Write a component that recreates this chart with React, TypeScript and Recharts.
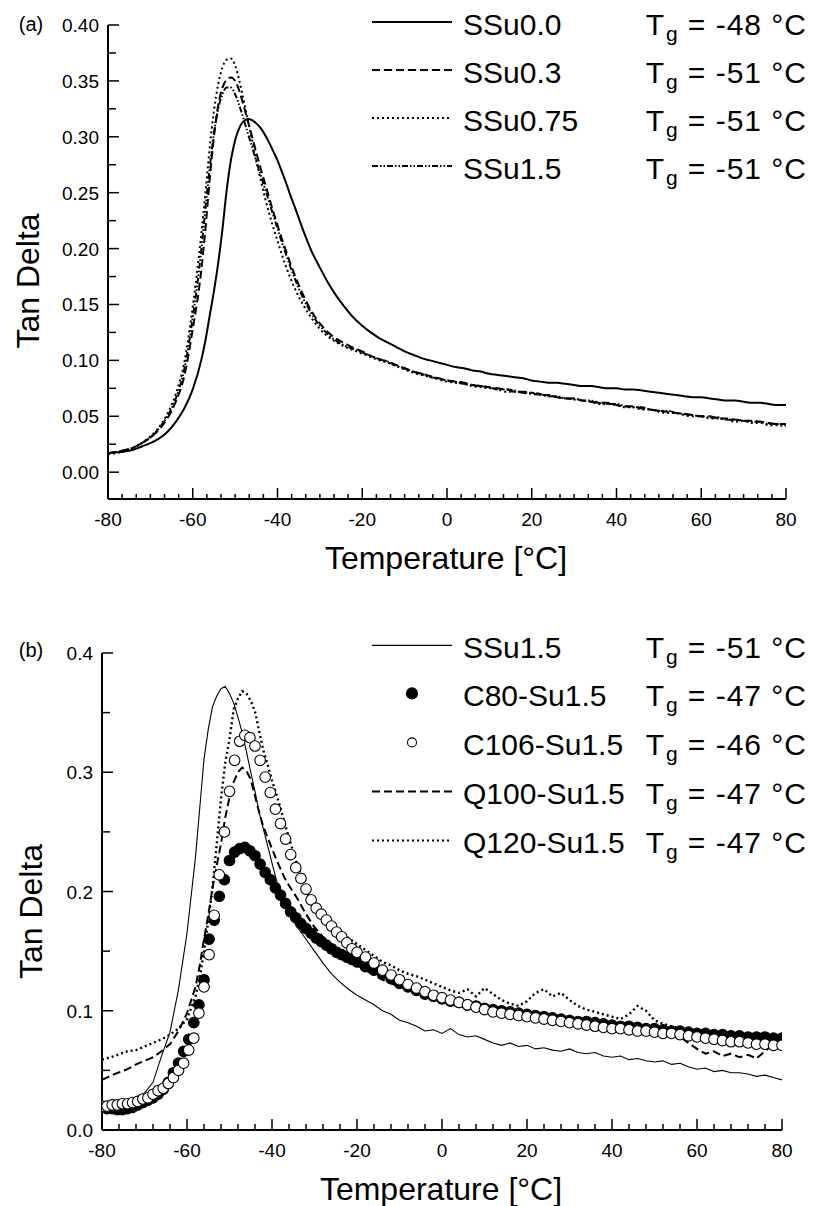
import React from "react";
import { ComposedChart, Line, Scatter, XAxis, YAxis, Legend } from "recharts";

const FONT = '"Liberation Sans", Arial, Helvetica, sans-serif';

// temperature grid (°C) used by the line series of both panels
const temps = [
  -80, -77, -74, -72, -70, -68, -66, -64, -62, -60,
  -58, -57, -56, -55, -54, -53, -52, -51, -50, -49, -48, -47, -46, -45, -44, -43, -42, -41, -40, -39, -38, -37, -36,
  -34, -32, -30, -28, -26, -24, -22, -20, -18, -16, -14, -12, -10, -8, -6, -4, -2, 0,
  2, 4, 6, 8, 10, 12, 14, 16, 18, 20, 22, 24, 26, 28, 30, 32, 34, 36, 38, 40,
  42, 44, 46, 48, 50, 52, 54, 56, 58, 60, 62, 64, 66, 68, 70, 72, 74, 76, 78, 80,
];

// ---- panel (a) ----
const ssu00 = [
  0.017, 0.018, 0.02, 0.023, 0.026, 0.03, 0.036, 0.045, 0.057, 0.074,
  0.1, 0.118, 0.14, 0.162, 0.187, 0.217, 0.252, 0.279, 0.297, 0.308, 0.314, 0.316, 0.315, 0.312, 0.308, 0.302, 0.295, 0.287, 0.279, 0.269, 0.259, 0.248, 0.238,
  0.217, 0.198, 0.183, 0.169, 0.157, 0.147, 0.138, 0.131, 0.125, 0.12, 0.116, 0.112, 0.108, 0.105, 0.102, 0.1, 0.098, 0.096,
  0.094, 0.093, 0.091, 0.09, 0.088, 0.087, 0.086, 0.085, 0.084, 0.082, 0.081, 0.08, 0.08, 0.079, 0.078, 0.077, 0.077, 0.076, 0.075, 0.075,
  0.074, 0.074, 0.073, 0.072, 0.071, 0.07, 0.069, 0.068, 0.067, 0.067, 0.066, 0.065, 0.064, 0.064, 0.063, 0.062, 0.062, 0.061, 0.06, 0.06,
];
const ssu03 = [
  0.017, 0.019, 0.022, 0.026, 0.031, 0.038, 0.048, 0.063, 0.086, 0.128,
  0.18, 0.218, 0.262, 0.3, 0.328, 0.344, 0.351, 0.353, 0.35, 0.341, 0.328, 0.314, 0.3, 0.286, 0.272, 0.259, 0.246, 0.233, 0.221, 0.209, 0.198, 0.187, 0.177,
  0.159, 0.144, 0.133, 0.125, 0.119, 0.115, 0.111, 0.108, 0.104, 0.101, 0.099, 0.096, 0.093, 0.09, 0.088, 0.086, 0.084, 0.082,
  0.081, 0.08, 0.078, 0.077, 0.076, 0.075, 0.074, 0.072, 0.072, 0.071, 0.069, 0.069, 0.067, 0.066, 0.066, 0.064, 0.063, 0.062, 0.062, 0.06,
  0.059, 0.059, 0.057, 0.056, 0.055, 0.054, 0.053, 0.052, 0.051, 0.05, 0.05, 0.048, 0.048, 0.047, 0.046, 0.046, 0.045, 0.044, 0.043, 0.043,
];
const ssu075 = [
  0.016, 0.018, 0.022, 0.026, 0.032, 0.04, 0.052, 0.07, 0.098, 0.148,
  0.212, 0.25, 0.29, 0.323, 0.347, 0.362, 0.369, 0.37, 0.364, 0.35, 0.333, 0.315, 0.297, 0.279, 0.262, 0.246, 0.232, 0.219, 0.207, 0.195, 0.184, 0.174, 0.165,
  0.15, 0.138, 0.128, 0.121, 0.116, 0.112, 0.109, 0.106, 0.103, 0.1, 0.098, 0.095, 0.092, 0.089, 0.087, 0.085, 0.083, 0.081,
  0.08, 0.079, 0.077, 0.076, 0.075, 0.074, 0.072, 0.072, 0.071, 0.07, 0.069, 0.068, 0.067, 0.066, 0.065, 0.064, 0.063, 0.061, 0.061, 0.06,
  0.058, 0.058, 0.056, 0.056, 0.054, 0.053, 0.053, 0.051, 0.05, 0.05, 0.048, 0.048, 0.047, 0.045, 0.046, 0.044, 0.044, 0.042, 0.042, 0.041,
];
const ssu15a = [
  0.017, 0.019, 0.022, 0.026, 0.031, 0.039, 0.05, 0.066, 0.092, 0.138,
  0.198, 0.236, 0.272, 0.303, 0.325, 0.338, 0.344, 0.344, 0.338, 0.328, 0.316, 0.303, 0.291, 0.278, 0.266, 0.254, 0.242, 0.23, 0.218, 0.206, 0.195, 0.184, 0.174,
  0.156, 0.142, 0.131, 0.123, 0.117, 0.113, 0.11, 0.107, 0.104, 0.101, 0.099, 0.095, 0.093, 0.09, 0.088, 0.085, 0.084, 0.082,
  0.081, 0.079, 0.078, 0.077, 0.076, 0.074, 0.074, 0.073, 0.071, 0.071, 0.07, 0.068, 0.068, 0.066, 0.066, 0.064, 0.064, 0.062, 0.061, 0.061,
  0.059, 0.058, 0.058, 0.056, 0.055, 0.055, 0.053, 0.052, 0.051, 0.05, 0.049, 0.049, 0.047, 0.047, 0.046, 0.045, 0.045, 0.043, 0.043, 0.042,
];
const namesA = ["SSu0.0", "SSu0.3", "SSu0.75", "SSu1.5"];
const tgA = [-48, -51, -51, -51];

// ---- panel (b) ----
const ssu15b = [
  0.018, 0.02, 0.023, 0.027, 0.031, 0.04, 0.062, 0.082, 0.118, 0.165,
  0.229, 0.27, 0.311, 0.336, 0.355, 0.364, 0.37, 0.372, 0.366, 0.358, 0.346, 0.333, 0.317, 0.3, 0.284, 0.266, 0.252, 0.238, 0.224, 0.21, 0.197, 0.188, 0.181,
  0.17, 0.16, 0.15, 0.14, 0.131, 0.124, 0.118, 0.113, 0.109, 0.105, 0.1, 0.097, 0.092, 0.09, 0.087, 0.083, 0.084, 0.081,
  0.085, 0.08, 0.078, 0.079, 0.076, 0.073, 0.071, 0.073, 0.07, 0.071, 0.068, 0.069, 0.067, 0.066, 0.068, 0.065, 0.064, 0.065, 0.062, 0.061,
  0.062, 0.059, 0.06, 0.058, 0.057, 0.058, 0.055, 0.056, 0.053, 0.051, 0.052, 0.049, 0.05, 0.048, 0.048, 0.047, 0.045, 0.046, 0.044, 0.042,
];
const q100 = [
  0.042, 0.047, 0.051, 0.055, 0.058, 0.061, 0.066, 0.072, 0.083, 0.098,
  0.12, 0.138, 0.16, 0.18, 0.203, 0.222, 0.24, 0.262, 0.279, 0.292, 0.3, 0.304, 0.301, 0.294, 0.28, 0.266, 0.254, 0.245, 0.236, 0.227, 0.219, 0.211, 0.205,
  0.194, 0.181, 0.17, 0.162, 0.155, 0.149, 0.143, 0.138, 0.134, 0.13, 0.126, 0.123, 0.12, 0.118, 0.116, 0.114, 0.112, 0.11,
  0.109, 0.107, 0.105, 0.104, 0.103, 0.101, 0.1, 0.099, 0.098, 0.097, 0.096, 0.095, 0.094, 0.093, 0.092, 0.091, 0.09, 0.089, 0.088, 0.087,
  0.087, 0.086, 0.085, 0.084, 0.083, 0.082, 0.081, 0.078, 0.073, 0.068, 0.064, 0.066, 0.062, 0.064, 0.061, 0.063, 0.06, 0.066, 0.072, 0.074,
];
const q120 = [
  0.059, 0.062, 0.066, 0.067, 0.07, 0.073, 0.076, 0.08, 0.085, 0.093,
  0.112, 0.128, 0.15, 0.175, 0.203, 0.24, 0.278, 0.308, 0.328, 0.353, 0.362, 0.368, 0.366, 0.36, 0.351, 0.334, 0.318, 0.306, 0.293, 0.282, 0.27, 0.257, 0.245,
  0.222, 0.201, 0.186, 0.176, 0.17, 0.165, 0.161, 0.156, 0.151, 0.146, 0.141, 0.138, 0.134, 0.131, 0.129, 0.126, 0.123, 0.12,
  0.117, 0.115, 0.118, 0.112, 0.119, 0.114, 0.109, 0.106, 0.104, 0.108, 0.115, 0.118, 0.112, 0.115, 0.109, 0.104, 0.101, 0.099, 0.097, 0.095,
  0.093, 0.097, 0.104, 0.1, 0.092, 0.089, 0.087, 0.085, 0.083, 0.081, 0.08, 0.079, 0.078, 0.077, 0.075, 0.075, 0.073, 0.072, 0.072, 0.071,
];

// temperature grid of the circle series
const circleTemps = [
  -80, -78.8, -77.6, -76.4, -75.2, -74, -72.8, -71.6, -70.4, -69.2,
  -68, -66.8, -65.6, -64.4, -63.2, -62, -60.8, -59.6, -58.4, -57.2,
  -56, -54.8, -53.6, -52.4, -51.2, -50, -48.8, -47.6, -46.4, -45.2,
  -44, -42.8, -41.6, -40.4, -39.2, -38, -36.8, -35.6, -34.4, -33.2,
  -32, -30.8, -29.6, -28.4, -27.2, -26, -24.8, -23.6, -22.4, -21.2, -20,
  -18, -16, -14, -12, -10, -8, -6, -4, -2, 0,
  2, 4, 6, 8, 10, 12, 14, 16, 18, 20,
  22, 24, 26, 28, 30, 32, 34, 36, 38, 40,
  42, 44, 46, 48, 50, 52, 54, 56, 58, 60,
  62, 64, 66, 68, 70, 72, 74, 76, 78, 80,
];
const c80 = [
  0.019, 0.018, 0.018, 0.017, 0.017, 0.018, 0.019, 0.021, 0.023, 0.025,
  0.027, 0.03, 0.034, 0.04, 0.048, 0.056, 0.066, 0.076, 0.09, 0.105,
  0.126, 0.16, 0.176, 0.196, 0.21, 0.226, 0.233, 0.236, 0.237, 0.234,
  0.23, 0.223, 0.216, 0.21, 0.203, 0.197, 0.19, 0.183, 0.178, 0.173,
  0.169, 0.165, 0.161, 0.158, 0.155, 0.152, 0.149, 0.147, 0.145, 0.143, 0.141,
  0.137, 0.134, 0.131, 0.127, 0.123, 0.12, 0.117, 0.114, 0.112, 0.11,
  0.108, 0.107, 0.105, 0.104, 0.102, 0.101, 0.1, 0.099, 0.098, 0.097,
  0.096, 0.095, 0.094, 0.093, 0.092, 0.091, 0.091, 0.09, 0.089, 0.088,
  0.087, 0.087, 0.086, 0.085, 0.085, 0.084, 0.083, 0.083, 0.082, 0.081,
  0.081, 0.08, 0.08, 0.079, 0.079, 0.078, 0.078, 0.078, 0.077, 0.077,
];
const c106 = [
  0.02, 0.02, 0.021, 0.021, 0.022, 0.022, 0.023, 0.024, 0.026, 0.027,
  0.03, 0.033, 0.035, 0.039, 0.044, 0.05, 0.056, 0.067, 0.077, 0.098,
  0.12, 0.147, 0.18, 0.214, 0.25, 0.284, 0.31, 0.326, 0.331, 0.329,
  0.322, 0.31, 0.296, 0.283, 0.269, 0.257, 0.244, 0.231, 0.22, 0.211,
  0.202, 0.193, 0.186, 0.181, 0.176, 0.171, 0.166, 0.162, 0.157, 0.152, 0.149,
  0.145, 0.14, 0.134, 0.13, 0.126, 0.122, 0.119, 0.116, 0.113, 0.111,
  0.109, 0.107, 0.105, 0.103, 0.101, 0.099, 0.098, 0.097, 0.096, 0.095,
  0.094, 0.093, 0.092, 0.091, 0.09, 0.089, 0.088, 0.087, 0.086, 0.085,
  0.085, 0.084, 0.083, 0.083, 0.082, 0.081, 0.081, 0.08, 0.079, 0.078,
  0.077, 0.076, 0.075, 0.074, 0.074, 0.073, 0.072, 0.072, 0.071, 0.071,
];
const namesB = ["SSu1.5", "C80-Su1.5", "C106-Su1.5", "Q100-Su1.5", "Q120-Su1.5"];
const tgB = [-51, -47, -46, -47, -47];

// axis ticks
const xMajor = [-80, -60, -40, -20, 0, 20, 40, 60, 80];
const yMajorA = [0, 0.05, 0.1, 0.15, 0.2, 0.25, 0.3, 0.35, 0.4];
const yMajorB = [0, 0.1, 0.2, 0.3, 0.4];

function subdivide(major: number[], parts: number) {
  const out: number[] = [];
  for (let i = 0; i < major.length - 1; i++) {
    for (let k = 0; k < parts; k++) out.push(major[i] + ((major[i + 1] - major[i]) * k) / parts);
  }
  out.push(major[major.length - 1]);
  return out;
}

const toPoints = (t: number[], v: number[]) => t.map((x, i) => ({ t: x, v: v[i] }));
const isMajor = (list: number[], v: number) => list.some((m) => Math.abs(m - v) < 1e-6);

function xTick(major: number[], minorLen: number) {
  return (p: any) => {
    const v = p.payload.value;
    const big = isMajor(major, v);
    return (
      <g>
        <line x1={p.x} x2={p.x} y1={p.y} y2={p.y - (big ? 11 : minorLen)} stroke="#000" strokeWidth={1.5} />
        {big && (
          <text x={p.x} y={p.y + 27} textAnchor="middle" fontSize={19} fontFamily={FONT} fill="#000">
            {v}
          </text>
        )}
      </g>
    );
  };
}

function yTick(major: number[], digits: number) {
  return (p: any) => {
    const v = p.payload.value;
    const big = isMajor(major, v);
    return (
      <g>
        <line x1={p.x} x2={p.x + (big ? 11 : 8)} y1={p.y} y2={p.y} stroke="#000" strokeWidth={1.5} />
        {big && (
          <text x={p.x - 9} y={p.y + 7} textAnchor="end" fontSize={19} fontFamily={FONT} fill="#000">
            {v.toFixed(digits)}
          </text>
        )}
      </g>
    );
  };
}

const xTitle = (p: any) => {
  const vb = p.viewBox || { x: 0, y: 0, width: 0 };
  return (
    <text x={vb.x + vb.width / 2 - 1} y={vb.y + 70} textAnchor="middle" fontSize={32} fontFamily={FONT} fill="#000">
      Temperature [°C]
    </text>
  );
};

function yTitle(dx: number, dy: number, tag: string, tagDx: number, tagDy: number) {
  return (p: any) => {
    const vb = p.viewBox || { x: 0, y: 0, height: 0 };
    const cx = vb.x + dx;
    const cy = vb.y + vb.height / 2 + dy;
    return (
      <g>
        <text x={cx} y={cy} transform={`rotate(-90 ${cx} ${cy})`} textAnchor="middle" fontSize={32} fontFamily={FONT} fill="#000">
          Tan Delta
        </text>
        <text x={vb.x + tagDx} y={vb.y + tagDy} textAnchor="middle" fontSize={20} fontFamily={FONT} fill="#000">
          {tag}
        </text>
      </g>
    );
  };
}

type Sample = { dash?: string; width?: number; dot?: "filled" | "open" };

function LegendBlock({ names, tgs, samples, rowH }: { names: string[]; tgs: number[]; samples: Sample[]; rowH: number }) {
  const text: React.CSSProperties = {
    position: "absolute",
    top: 3,
    fontSize: 30,
    lineHeight: `${rowH}px`,
    whiteSpace: "nowrap",
    fontFamily: FONT,
    color: "#000",
  };
  return (
    <div>
      {names.map((name, i) => {
        const s = samples[i];
        return (
          <div key={name} style={{ position: "relative", height: rowH }}>
            <svg width={84} height={rowH} style={{ position: "absolute", left: 12, top: 0 }}>
              {s.dot ? (
                <circle
                  cx={40}
                  cy={rowH / 2}
                  r={s.dot === "filled" ? 5.5 : 4.5}
                  fill={s.dot === "filled" ? "#000" : "#fff"}
                  stroke="#000"
                  strokeWidth={1.1}
                />
              ) : (
                <line x1={0} x2={80} y1={rowH / 2} y2={rowH / 2} stroke="#000" strokeWidth={s.width} strokeDasharray={s.dash} />
              )}
            </svg>
            <span style={{ ...text, left: 103 }}>{name}</span>
            <span style={{ ...text, right: 9, letterSpacing: 1 }}>
              T<span style={{ fontSize: 21, position: "relative", top: 6, marginLeft: 1, marginRight: 9 }}>g</span>= {tgs[i]} °C
            </span>
          </div>
        );
      })}
    </div>
  );
}

const dotShape = (filled: boolean) => (p: any) =>
  <circle cx={p.cx} cy={p.cy} r={5.3} fill={filled ? "#000" : "#fff"} stroke="#000" strokeWidth={1.1} />;

const DASH = "8 4";
const DOT = "2 3";
const DASHDOTDOT = "6 2 1.5 2 1.5 2";

const samplesA: Sample[] = [
  { width: 2 },
  { width: 2, dash: DASH },
  { width: 2, dash: DOT },
  { width: 2, dash: DASHDOTDOT },
];
const samplesB: Sample[] = [
  { width: 1.1 },
  { dot: "filled" },
  { dot: "open" },
  { width: 2, dash: DASH },
  { width: 2, dash: DOT },
];

const axisLine = { stroke: "#000", strokeWidth: 2 };

function PanelA() {
  return (
    <ComposedChart width={816} height={590} margin={{ top: 25, right: 30, bottom: 51, left: 48 }}>
      <XAxis
        type="number"
        dataKey="t"
        domain={[-80, 80]}
        ticks={subdivide(xMajor, 6)}
        interval={0}
        tickSize={0}
        tickMargin={0}
        tickLine={false}
        axisLine={axisLine}
        tick={xTick(xMajor, 5)}
        height={40}
        allowDataOverflow
        label={xTitle}
      />
      <YAxis
        type="number"
        dataKey="v"
        domain={[-0.024, 0.4]}
        ticks={subdivide(yMajorA, 2)}
        interval={0}
        tickSize={0}
        tickMargin={0}
        tickLine={false}
        axisLine={axisLine}
        tick={yTick(yMajorA, 2)}
        width={60}
        allowDataOverflow
        label={yTitle(-9, 19, "(a)", -17, 6)}
      />
      <Legend
        verticalAlign="middle"
        align="center"
        wrapperStyle={{ position: "absolute", left: 360, top: -2, width: 456 }}
        content={() => <LegendBlock names={namesA} tgs={tgA} samples={samplesA} rowH={48} />}
      />
      <Line data={toPoints(temps, ssu00)} dataKey="v" type="monotone" stroke="#000" strokeWidth={2} dot={false} activeDot={false} isAnimationActive={false} />
      <Line data={toPoints(temps, ssu03)} dataKey="v" type="monotone" stroke="#000" strokeWidth={2} strokeDasharray={DASH} dot={false} activeDot={false} isAnimationActive={false} />
      <Line data={toPoints(temps, ssu075)} dataKey="v" type="monotone" stroke="#000" strokeWidth={2} strokeDasharray={DOT} dot={false} activeDot={false} isAnimationActive={false} />
      <Line data={toPoints(temps, ssu15a)} dataKey="v" type="monotone" stroke="#000" strokeWidth={2} strokeDasharray={DASHDOTDOT} dot={false} activeDot={false} isAnimationActive={false} />
    </ComposedChart>
  );
}

function PanelB() {
  return (
    <ComposedChart width={816} height={616} margin={{ top: 63, right: 34, bottom: 36, left: 42 }}>
      <XAxis
        type="number"
        dataKey="t"
        domain={[-80, 80]}
        ticks={subdivide(xMajor, 5)}
        interval={0}
        tickSize={0}
        tickMargin={0}
        tickLine={false}
        axisLine={axisLine}
        tick={xTick(xMajor, 6)}
        height={40}
        allowDataOverflow
        label={xTitle}
      />
      <YAxis
        type="number"
        dataKey="v"
        domain={[0, 0.4]}
        ticks={subdivide(yMajorB, 2)}
        interval={0}
        tickSize={0}
        tickMargin={0}
        tickLine={false}
        axisLine={axisLine}
        tick={yTick(yMajorB, 1)}
        width={60}
        allowDataOverflow
        label={yTitle(0, 20, "(b)", -11, 4)}
      />
      <Legend
        verticalAlign="middle"
        align="center"
        wrapperStyle={{ position: "absolute", left: 360, top: 30.6, width: 456 }}
        content={() => <LegendBlock names={namesB} tgs={tgB} samples={samplesB} rowH={48.8} />}
      />
      <Line data={toPoints(temps, ssu15b)} dataKey="v" type="linear" stroke="#000" strokeWidth={1.1} dot={false} activeDot={false} isAnimationActive={false} />
      <Scatter data={toPoints(circleTemps, c80)} dataKey="v" shape={dotShape(true)} isAnimationActive={false} />
      <Scatter data={toPoints(circleTemps, c106)} dataKey="v" shape={dotShape(false)} isAnimationActive={false} />
      <Line data={toPoints(temps, q100)} dataKey="v" type="linear" stroke="#000" strokeWidth={2} strokeDasharray={DASH} dot={false} activeDot={false} isAnimationActive={false} />
      <Line data={toPoints(temps, q120)} dataKey="v" type="linear" stroke="#000" strokeWidth={2.4} strokeDasharray={DOT} dot={false} activeDot={false} isAnimationActive={false} />
    </ComposedChart>
  );
}

export default function App() {
  return (
    <div style={{ position: "absolute", left: 0, top: 0, width: 816, height: 1206, background: "#fff", fontFamily: FONT }}>
      <div style={{ position: "absolute", left: 0, top: 0 }}>
        <PanelA />
      </div>
      <div style={{ position: "absolute", left: 0, top: 590 }}>
        <PanelB />
      </div>
    </div>
  );
}
